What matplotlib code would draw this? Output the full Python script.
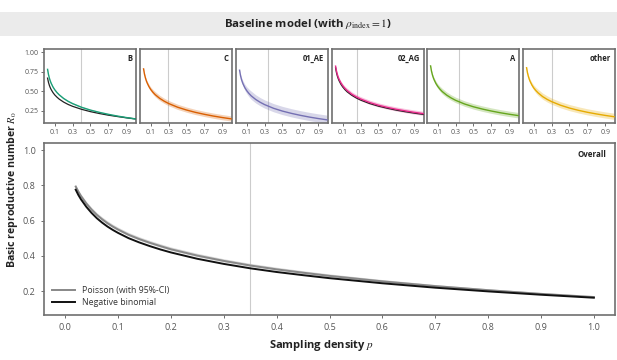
import matplotlib
matplotlib.use("Agg")
import matplotlib.pyplot as plt
from matplotlib.patches import Rectangle

plt.rcParams['font.family'] = ['Open Sans', 'DejaVu Sans']
plt.rcParams['mathtext.fontset'] = 'stix'

# overall panel: sampling density vs R0
p_all = [0.02, 0.025, 0.03, 0.04, 0.05, 0.06, 0.07, 0.08, 0.09, 0.10, 0.12, 0.14, 0.16,
         0.18, 0.20, 0.25, 0.30, 0.35, 0.40, 0.45, 0.50, 0.60, 0.70, 0.80, 0.90, 1.00]
r0_nb = [0.775, 0.745, 0.720, 0.678, 0.643, 0.613, 0.588, 0.566, 0.547, 0.530, 0.500, 0.476, 0.455,
         0.436, 0.419, 0.383, 0.354, 0.329, 0.308, 0.290, 0.273, 0.244, 0.219, 0.198, 0.179, 0.162]
r0_pois = [0.793, 0.764, 0.739, 0.697, 0.662, 0.632, 0.607, 0.585, 0.566, 0.549, 0.519, 0.495, 0.474,
           0.455, 0.437, 0.401, 0.371, 0.345, 0.323, 0.304, 0.286, 0.255, 0.228, 0.205, 0.184, 0.166]
r0_pois_lo = [0.787, 0.758, 0.733, 0.691, 0.656, 0.626, 0.601, 0.579, 0.560, 0.543, 0.513, 0.489, 0.468,
              0.449, 0.431, 0.395, 0.365, 0.340, 0.318, 0.299, 0.281, 0.251, 0.224, 0.201, 0.181, 0.163]
r0_pois_hi = [0.801, 0.773, 0.749, 0.708, 0.674, 0.644, 0.620, 0.598, 0.579, 0.562, 0.532, 0.508, 0.487,
              0.468, 0.450, 0.414, 0.383, 0.357, 0.335, 0.315, 0.297, 0.265, 0.237, 0.213, 0.191, 0.172]

# subtype panels
p_sub = [0.02, 0.03, 0.04, 0.05, 0.06, 0.08, 0.10, 0.125, 0.15, 0.20,
         0.25, 0.30, 0.40, 0.50, 0.60, 0.70, 0.80, 0.90, 1.00]
subtypes = ['B', 'C', '01_AE', '02_AG', 'A', 'other']
colors = ['#1b9e77', '#d95f02', '#7570b3', '#e7298a', '#66a61e', '#e6ab02']
vlines = [0.39, 0.29, 0.34, 0.26, 0.34, 0.30]

sub_mid = {
    'B':     [0.780, 0.715, 0.668, 0.632, 0.603, 0.556, 0.520, 0.484, 0.455, 0.408,
              0.372, 0.343, 0.296, 0.260, 0.231, 0.206, 0.184, 0.165, 0.148],
    'C':     [0.786, 0.720, 0.673, 0.636, 0.607, 0.560, 0.523, 0.487, 0.457, 0.410,
              0.374, 0.344, 0.297, 0.261, 0.231, 0.206, 0.184, 0.165, 0.148],
    '01_AE': [0.769, 0.703, 0.656, 0.620, 0.591, 0.544, 0.508, 0.472, 0.442, 0.396,
              0.360, 0.330, 0.283, 0.247, 0.218, 0.193, 0.171, 0.152, 0.135],
    '02_AG': [0.821, 0.759, 0.714, 0.679, 0.651, 0.607, 0.572, 0.537, 0.509, 0.464,
              0.430, 0.402, 0.357, 0.322, 0.294, 0.270, 0.250, 0.231, 0.215],
    'A':     [0.824, 0.758, 0.711, 0.675, 0.646, 0.599, 0.563, 0.527, 0.497, 0.451,
              0.415, 0.385, 0.338, 0.302, 0.273, 0.248, 0.226, 0.207, 0.190],
    'other': [0.801, 0.736, 0.690, 0.654, 0.625, 0.579, 0.543, 0.508, 0.479, 0.432,
              0.397, 0.368, 0.322, 0.286, 0.257, 0.232, 0.211, 0.192, 0.175],
}
sub_width = {'B': 0.01, 'C': 0.038, '01_AE': 0.06, '02_AG': 0.03, 'A': 0.04, 'other': 0.045}
# negative binomial fits shown only for B and 02_AG
sub_nb = {
    'B':     [0.668, 0.614, 0.576, 0.546, 0.522, 0.484, 0.454, 0.425, 0.400, 0.362,
              0.332, 0.308, 0.270, 0.240, 0.216, 0.195, 0.178, 0.162, 0.148],
    '02_AG': [0.800, 0.738, 0.694, 0.660, 0.633, 0.589, 0.555, 0.521, 0.493, 0.450,
              0.416, 0.388, 0.344, 0.310, 0.283, 0.259, 0.239, 0.221, 0.205],
}

fig = plt.figure(figsize=(6.17, 3.6), dpi=100)

# title band
fig.patches.append(Rectangle((0, 0.9), 1, 0.0667, transform=fig.transFigure,
                             facecolor='#ebebeb', edgecolor='none', zorder=0))
fig.text(0.5, 0.933, r'Baseline model (with $\rho_{\mathrm{index}} = 1$)',
         ha='center', va='center', fontsize=8.2, fontweight='bold', color='#222222')

spine_col = '#707070'
tick_col = '#555555'


def style(ax):
    for s in ax.spines.values():
        s.set_color(spine_col)
        s.set_linewidth(1.2)
    ax.tick_params(colors=tick_col, length=2.5, width=0.6, labelcolor=tick_col)


lefts = [44, 140, 236, 332, 427, 523]
for i, name in enumerate(subtypes):
    ax = fig.add_axes([lefts[i] / 617, 1 - 123 / 360, 92 / 617, 74 / 360])
    style(ax)
    c = colors[i]
    mid = sub_mid[name]
    w = sub_width[name]
    lo = [m - w * (0.25 + 0.5 * min(1, j / 8)) for j, m in enumerate(mid)]
    hi = [m + w * (0.3 + 0.7 * min(1, j / 8)) for j, m in enumerate(mid)]
    ax.axvline(vlines[i], color='#cccccc', lw=0.8, zorder=1)
    ax.fill_between(p_sub, lo, hi, color=c, alpha=0.28, lw=0, zorder=2)
    if name in sub_nb:
        ax.plot(p_sub, sub_nb[name], color='#222222', lw=0.9, zorder=3)
    ax.plot(p_sub, mid, color=c, lw=1.0, zorder=4)
    ax.set_xlim(-0.02, 1.01)
    ax.set_ylim(0.095, 1.04)
    ax.set_xticks([0.1, 0.3, 0.5, 0.7, 0.9])
    ax.set_xticklabels(['0.1', '0.3', '0.5', '0.7', '0.9'], fontsize=5)
    ax.tick_params(axis='x', pad=1.5)
    if i == 0:
        ax.set_yticks([0.25, 0.5, 0.75, 1.0])
        ax.set_yticklabels(['0.25', '0.50', '0.75', '1.00'], fontsize=5)
        ax.tick_params(axis='y', pad=1.5)
    else:
        ax.set_yticks([])
    ax.text(0.96, 0.93, name, transform=ax.transAxes, ha='right', va='top',
            fontsize=5.5, fontweight='bold', color='#222222')

# overall panel
ax = fig.add_axes([44 / 617, 1 - 315 / 360, 571 / 617, 172 / 360])
style(ax)
ax.axvline(0.35, color='#cccccc', lw=0.8, zorder=1)
ax.fill_between(p_all, r0_pois_lo, r0_pois_hi, color='#c8c8c8', alpha=0.7, lw=0, zorder=2)
ax.plot(p_all, r0_pois, color='#888888', lw=1.4, label='Poisson (with 95%-CI)', zorder=3)
ax.plot(p_all, r0_nb, color='#111111', lw=1.4, label='Negative binomial', zorder=4)
ax.set_xlim(-0.04, 1.04)
ax.set_ylim(0.064, 1.04)
ax.set_xticks([i / 10 for i in range(11)])
ax.set_xticklabels([f'{i / 10:.1f}' for i in range(11)], fontsize=6.5)
ax.set_yticks([0.2, 0.4, 0.6, 0.8, 1.0])
ax.set_yticklabels(['0.2', '0.4', '0.6', '0.8', '1.0'], fontsize=6.5)
ax.text(0.985, 0.96, 'Overall', transform=ax.transAxes, ha='right', va='top',
        fontsize=5.8, fontweight='bold', color='#222222')
leg = ax.legend(loc='lower left', frameon=False, fontsize=6.3, handlelength=2.6,
                borderaxespad=0.5, labelspacing=0.3, handletextpad=0.8)
for t in leg.get_texts():
    t.set_color('#333333')

fig.text(0.522, 0.039, r'Sampling density $p$', ha='center', va='center',
         fontsize=8, fontweight='bold', color='#222222')
fig.text(0.021, 0.472, r'Basic reproductive number $R_0$', ha='center', va='center',
         rotation=90, fontsize=7.6, fontweight='bold', color='#222222')

fig.savefig('out.png', dpi=100)
